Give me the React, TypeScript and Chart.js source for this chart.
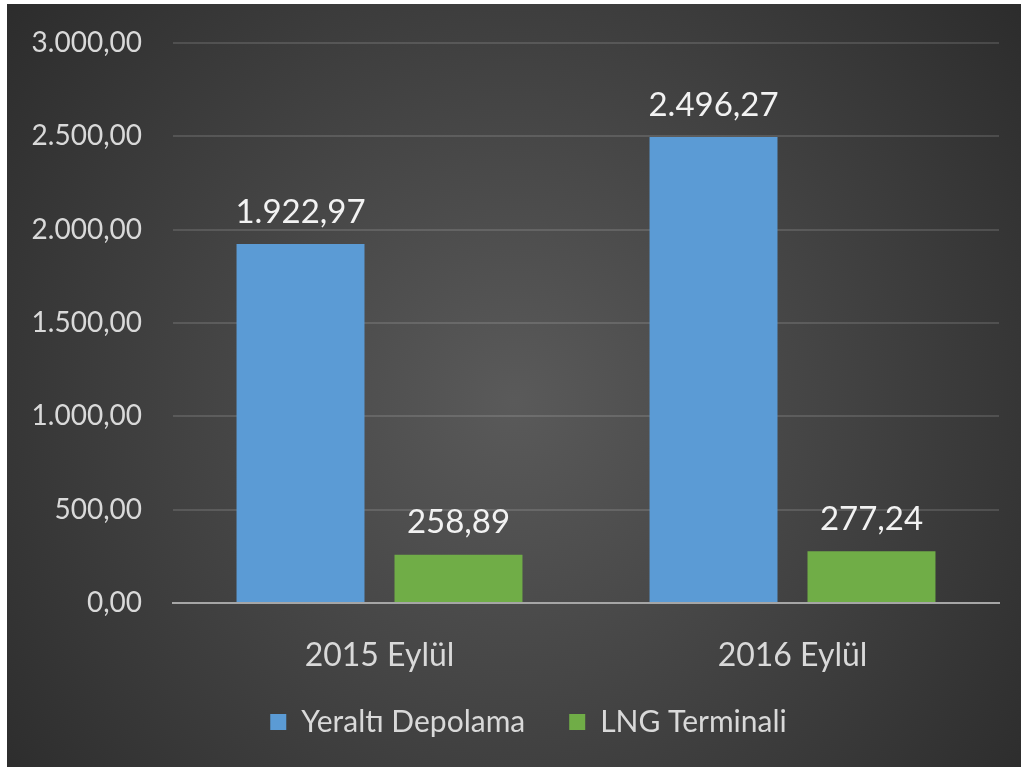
import React, { useEffect, useRef } from "react";
import { Chart, registerables } from "chart.js";

Chart.register(...registerables);

const categories = ["2015 Eylül", "2016 Eylül"];
const seriesNames = ["Yeraltı Depolama", "LNG Terminali"];
const yeraltiValues = [1922.97, 2496.27];
const lngValues = [258.89, 277.24];
const yMin = 0;
const yMax = 3000;
const yStep = 500;

const FONT = "Lato, 'Open Sans', sans-serif";

function fmt(v: number): string {
  const [i, d] = v.toFixed(2).split(".");
  return i.replace(/\B(?=(\d{3})+(?!\d))/g, ".") + "," + d;
}

const bgPlugin = {
  id: "bgGradient",
  beforeDraw(chart: any) {
    const { ctx, width, height } = chart;
    ctx.save();
    const g = ctx.createRadialGradient(width * 0.5, height * 0.52, 0, width * 0.5, height * 0.52, Math.max(width, height) * 0.72);
    g.addColorStop(0, "#5a5a5a");
    g.addColorStop(1, "#262626");
    ctx.fillStyle = g;
    ctx.fillRect(0, 0, width, height);
    ctx.restore();
  },
};

const legendPlacePlugin = {
  id: "legendPlace",
  afterLayout(chart: any) {
    const lg = chart.legend;
    if (!lg) return;
    lg.top = 659;
    lg.bottom = chart.height;
    lg.height = chart.height - 659;
    lg.left = 25.5;
    lg.right = 992 + 25.5;
  },
};

const labelPlugin = {
  id: "valueLabels",
  afterDatasetsDraw(chart: any) {
    const { ctx } = chart;
    ctx.save();
    ctx.font = `33px ${FONT}`;
    ctx.fillStyle = "#f2f2f2";
    ctx.textAlign = "center";
    ctx.textBaseline = "middle";
    chart.data.datasets.forEach((ds: any, di: number) => {
      const meta = chart.getDatasetMeta(di);
      meta.data.forEach((bar: any, i: number) => {
        ctx.fillText(fmt(ds.data[i]), bar.x, bar.y - 32);
      });
    });
    ctx.restore();
  },
};

export default function App() {
  const ref = useRef<HTMLCanvasElement>(null);
  useEffect(() => {
    document.body.style.margin = "0";
    const chart = new Chart(ref.current as HTMLCanvasElement, {
      type: "bar",
      data: {
        labels: categories,
        datasets: [
          { label: seriesNames[0], data: yeraltiValues, backgroundColor: "#5B9BD5", categoryPercentage: 0.765, barPercentage: 0.81 },
          { label: seriesNames[1], data: lngValues, backgroundColor: "#70AD47", categoryPercentage: 0.765, barPercentage: 0.81 },
        ],
      },
      options: {
        animation: false,
        responsive: false,
        maintainAspectRatio: false,
        layout: { padding: { top: 39, right: 22, bottom: 64, left: 0 } },
        plugins: {
          tooltip: { enabled: false },
          legend: {
            position: "bottom",
            maxHeight: 20,
            labels: {
              color: "#d9d9d9",
              font: { family: FONT, size: 30 },
              boxWidth: 16,
              boxHeight: 16,
              padding: 44,
            },
          },
        },
        scales: {
          x: {
            grid: { display: false, drawTicks: false },
            border: { display: true, color: "#a6a6a6", width: 2 },
            ticks: { color: "#d9d9d9", font: { family: FONT, size: 32 }, padding: 33 },
            afterFit(scale: any) { scale.height = 80; },
          },
          y: {
            min: yMin,
            max: yMax,
            grid: { color: "rgba(255,255,255,0.13)", lineWidth: 2, drawTicks: true, tickLength: 31, tickColor: "rgba(0,0,0,0)" },
            border: { display: false },
            ticks: {
              stepSize: yStep,
              color: "#d9d9d9",
              font: { family: FONT, size: 28 },
              padding: 0,
              callback: (v: any) => fmt(Number(v)),
            },
            afterFit(scale: any) { scale.width = 166; },
          },
        },
      },
      plugins: [bgPlugin, legendPlacePlugin, labelPlugin],
    } as any);
    return () => chart.destroy();
  }, []);
  return (
    <div style={{ position: "fixed", left: 0, top: 0, width: 1021, height: 767, background: "#ffffff" }}>
      <div style={{ position: "absolute", left: 7, top: 4, width: 1014, height: 763 }}>
        <canvas ref={ref} width={1014} height={763} style={{ display: "block", width: 1014, height: 763 }} />
      </div>
    </div>
  );
}
